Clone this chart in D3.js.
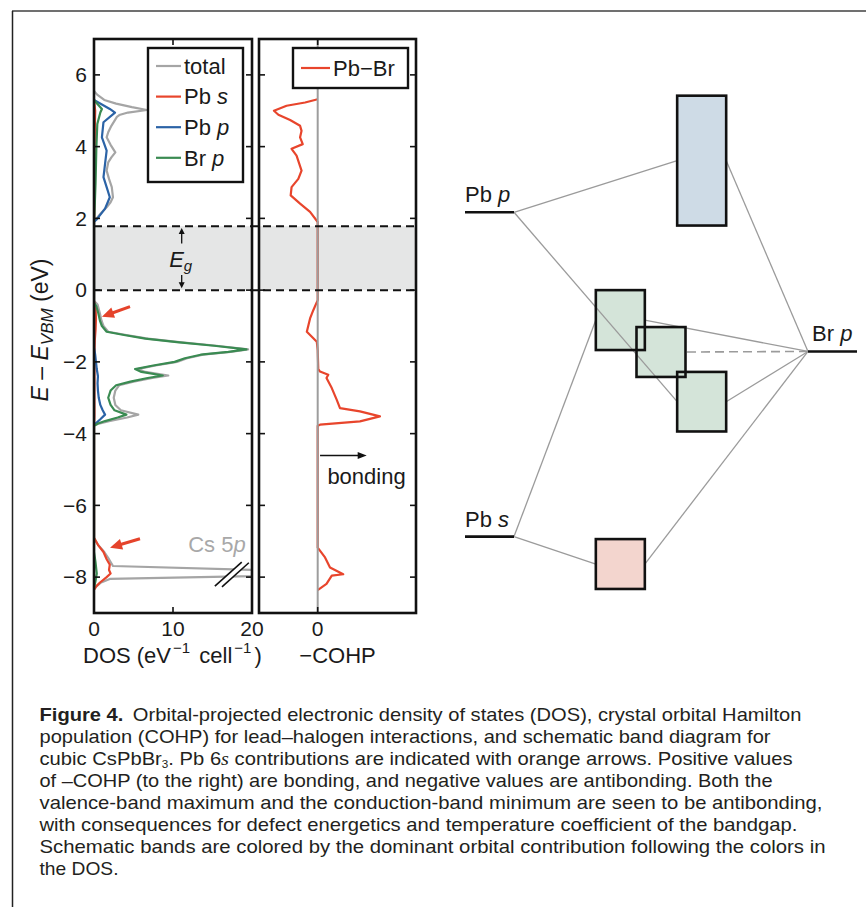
<!DOCTYPE html>
<html>
<head>
<meta charset="utf-8">
<script src="https://cdn.jsdelivr.net/npm/d3@7"></script>
<style>
  body { margin: 0; background: #fff; }
  text { font-family: "Liberation Sans", Arial, Helvetica, sans-serif; fill: #1a1a1a; }
</style>
</head>
<body>
<div class="chartDiv"></div>
<script>
// DOS / COHP of cubic CsPbBr3 + schematic band diagram

// ---- data (energy in eV, value) ----
const energyTicks = [-8, -6, -4, -2, 0, 2, 4, 6];
const dosTicks = [0, 10, 20];
const cohpTicks = [0];
const gapEdges = [0, 1.78];

const dosNames = ["total", "Pb s", "Pb p", "Br p"];
const dosColors = ["#a5a5a5", "#e8452c", "#2b63a6", "#3a8b52"];

const dosTotal = [
  [5.55, 0], [5.45, 0.4], [5.3, 1.3], [5.2, 2.8], [5.1, 4.8], [5.02, 6.7], [4.95, 4.3], [4.88, 3.2],
  [4.83, 2.9], [4.58, 2.2], [4.4, 1.8], [4.26, 1.6], [4.05, 2.1], [3.84, 2.7], [3.7, 2.2], [3.56, 1.8],
  [3.33, 1.6], [3.1, 1.9], [2.87, 2.25], [2.59, 2.4], [2.45, 2.1], [2.31, 1.6], [2.15, 0.9], [1.99, 0.3], [1.9, 0],
  [-0.3, 0], [-0.4, 0.45], [-0.65, 0.75], [-0.85, 0.95], [-1.0, 1.2], [-1.16, 1.8], [-1.25, 4.1],
  [-1.35, 6.8], [-1.45, 10.8], [-1.55, 15.5], [-1.65, 19.5], [-1.72, 17.3], [-1.8, 13.8], [-1.9, 11.8],
  [-2.0, 10.5], [-2.1, 7.8], [-2.2, 5.5], [-2.28, 6.5], [-2.38, 9.4], [-2.45, 7.4], [-2.55, 5.0],
  [-2.65, 3.2], [-2.8, 2.7], [-3.0, 2.5], [-3.2, 2.7], [-3.35, 3.4], [-3.47, 5.6], [-3.55, 4.2],
  [-3.65, 1.9], [-3.72, 0.6], [-3.78, 0],
  [-6.9, 0], [-7.1, 0.5], [-7.3, 1.3], [-7.5, 1.9], [-7.69, 2.4], [-7.9, 36], [-8.05, 2.0],
  [-8.15, 0.9], [-8.25, 0.35], [-8.35, 0]
];
const dosPbS = [
  [5.3, 0], [5.0, 0.15], [4.5, 0.1], [3.0, 0.06], [2.0, 0.03], [1.9, 0],
  [-0.3, 0], [-0.5, 0.2], [-0.8, 0.25], [-1.1, 0.2], [-1.4, 0.1], [-1.8, 0.05], [-3.5, 0.05], [-3.8, 0],
  [-6.9, 0], [-7.1, 0.5], [-7.3, 1.2], [-7.5, 1.6], [-7.65, 2.0], [-7.8, 1.9], [-7.9, 2.1],
  [-8.0, 1.6], [-8.15, 0.76], [-8.25, 0.3], [-8.35, 0]
];
const dosPbP = [
  [5.3, 0], [5.05, 2.0], [4.95, 2.66], [4.68, 1.2], [4.26, 1.0], [3.89, 1.6], [3.52, 1.4],
  [3.15, 1.2], [2.8, 1.7], [2.59, 2.0], [2.27, 1.4], [1.96, 0.3], [1.9, 0],
  [-1.6, 0], [-1.8, 0.15], [-2.0, 0.25], [-2.2, 0.35], [-2.4, 0.5], [-2.6, 0.45], [-2.8, 0.5],
  [-3.0, 0.6], [-3.2, 0.8], [-3.35, 1.1], [-3.47, 1.4], [-3.6, 0.8], [-3.72, 0.2], [-3.78, 0]
];
const dosBrP = [
  [5.3, 0], [5.05, 1.0], [4.95, 0.8], [4.63, 0.42], [4.0, 0.3], [3.0, 0.2], [2.1, 0.05], [1.95, 0],
  [-0.35, 0], [-0.45, 0.3], [-0.65, 0.55], [-0.85, 0.75], [-1.0, 1.0], [-1.16, 1.6], [-1.25, 3.8],
  [-1.35, 6.5], [-1.45, 10.5], [-1.55, 15.2], [-1.65, 19.3], [-1.72, 17.0], [-1.8, 13.5], [-1.9, 11.5],
  [-2.0, 10.2], [-2.1, 7.5], [-2.2, 5.2], [-2.28, 6.0], [-2.38, 8.7], [-2.45, 6.8], [-2.55, 4.6],
  [-2.65, 2.8], [-2.8, 2.1], [-3.0, 1.8], [-3.2, 2.1], [-3.35, 2.6], [-3.47, 4.1], [-3.55, 3.0],
  [-3.65, 1.4], [-3.72, 0.5], [-3.78, 0],
  [-7.3, 0], [-7.6, 0.2], [-7.9, 0.35], [-8.1, 0.2], [-8.3, 0]
];
const dosSeries = [dosTotal, dosPbS, dosPbP, dosBrP];

const cohpPbBr = [
  [5.32, 0], [5.23, -0.43], [5.14, -1.06], [5.0, -1.49], [4.89, -1.34], [4.74, -0.94], [4.58, -0.6],
  [4.44, -0.55], [4.26, -0.6], [4.07, -0.51], [3.94, -0.89], [3.75, -0.72], [3.33, -0.55], [3.1, -0.66],
  [2.87, -0.89], [2.64, -0.92], [2.41, -0.6], [2.18, -0.26], [1.9, 0],
  [0, 0], [-0.28, 0], [-0.56, -0.15], [-0.79, -0.26], [-1.16, -0.37], [-1.3, -0.2], [-1.44, -0.03],
  [-1.67, 0], [-2.2, 0.02], [-2.27, 0.08], [-2.36, 0.36], [-2.45, 0.3], [-2.73, 0.48], [-3.06, 0.65],
  [-3.29, 0.76], [-3.38, 1.44], [-3.52, 2.12], [-3.66, 1.44], [-3.75, 0.08], [-3.78, 0],
  [-7.18, 0], [-7.45, 0.25], [-7.73, 0.42], [-7.92, 0.87], [-7.96, 0.48], [-8.19, 0.3], [-8.36, 0]
];

// Pb 6s arrows: [value, E] tail -> head
const pbsArrows = [
  [[4.56, -0.46], [1.0, -0.74]],
  [[5.82, -6.93], [2.03, -7.18]]
];

// schematic: atomic levels and bands (energies on same axis)
const atomLevels = [
  { name: "Pb", orb: "p", E: 2.17, col: 0 },
  { name: "Pb", orb: "s", E: -6.87, col: 0 },
  { name: "Br", orb: "p", E: -1.71, col: 7 }
];
const bandNames = ["CB", "VB1", "VB2", "VB3", "PbS"];
const bandTops = [5.42, 0, -1.03, -2.28, -6.94];
const bandBottoms = [1.8, -1.67, -2.42, -3.94, -8.33];
const bandCols = [4.33, 2.67, 3.5, 4.33, 2.67];
const bandFills = ["#cedbe6", "#d4e4d9", "#d4e4d9", "#d4e4d9", "#f3d5ce"];
// links: [atom index, band index, dashed]
const schemLinks = [
  [0, 0, false], [0, 3, false], [1, 1, false], [1, 4, false],
  [2, 0, false], [2, 1, false], [2, 2, true], [2, 3, false], [2, 4, false]
];

const captionLines = [
  [["Figure 4.", "b"], ["Orbital-projected electronic density of states (DOS), crystal orbital Hamilton", "gap"]],
  [["population (COHP) for lead–halogen interactions, and schematic band diagram for", ""]],
  [["cubic CsPbBr", ""], ["3", "sub"], [". Pb 6", "up"], ["s", "is"], [" contributions are indicated with orange arrows. Positive values", ""]],
  [["of –COHP (to the right) are bonding, and negative values are antibonding. Both the", ""]],
  [["valence-band maximum and the conduction-band minimum are seen to be antibonding,", ""]],
  [["with consequences for defect energetics and temperature coefficient of the bandgap.", ""]],
  [["Schematic bands are colored by the dominant orbital contribution following the colors in", ""]],
  [["the DOS.", ""]]
];
const captionWidths = [762, 731, 753, 733, 783, 758, 786, 79];

// ---- drawing ----
let svg = d3.select('.chartDiv')
  .append('svg')
  .attr('width', 866)
  .attr('height', 907);

// figure frame
svg.append('line').attr('x1', 12).attr('x2', 866).attr('y1', 11).attr('y2', 11)
  .attr('stroke', '#707070').attr('stroke-width', 2);
svg.append('line').attr('x1', 12.5).attr('x2', 12.5).attr('y1', 11).attr('y2', 907)
  .attr('stroke', '#222').attr('stroke-width', 1.5);

let yScale = d3.scaleLinear().domain([-9, 7]).range([613, 39]);
let xDos = d3.scaleLinear().domain([0, 20]).range([94, 252]);
let xCohp = d3.scaleLinear().domain([-2, 3.35]).range([259, 416]);

let defs = svg.append('defs');
[['clipDos', xDos], ['clipCohp', xCohp]].forEach(([id, sc]) => {
  defs.append('clipPath').attr('id', id).append('rect')
    .attr('x', sc.range()[0]).attr('y', yScale.range()[1])
    .attr('width', sc.range()[1] - sc.range()[0])
    .attr('height', yScale.range()[0] - yScale.range()[1]);
});

// band gap shading
[xDos, xCohp].forEach(sc => {
  svg.append('rect')
    .attr('x', sc.range()[0]).attr('width', sc.range()[1] - sc.range()[0])
    .attr('y', yScale(gapEdges[1])).attr('height', yScale(gapEdges[0]) - yScale(gapEdges[1]))
    .attr('fill', '#e5e6e6');
});

// arrow helper
let drawArrow = (g, x1, y1, x2, y2, color, w, hl, hw) => {
  let dx = x2 - x1, dy = y2 - y1, len = Math.hypot(dx, dy);
  let ux = dx / len, uy = dy / len;
  let bx = x2 - ux * hl, by = y2 - uy * hl;
  g.append('line').attr('x1', x1).attr('y1', y1).attr('x2', bx + ux * 1).attr('y2', by + uy * 1)
    .attr('stroke', color).attr('stroke-width', w);
  g.append('path')
    .attr('d', `M${x2},${y2}L${bx - uy * hw / 2},${by + ux * hw / 2}L${bx + uy * hw / 2},${by - ux * hw / 2}Z`)
    .attr('fill', color);
};

// DOS curves
let dosLine = d3.line().x(d => xDos(d[1])).y(d => yScale(d[0]));
let dosG = svg.append('g').attr('clip-path', 'url(#clipDos)');
dosSeries.forEach((s, i) => {
  dosG.append('path').attr('d', dosLine(s))
    .attr('fill', 'none').attr('stroke', dosColors[i]).attr('stroke-width', 2.2)
    .attr('stroke-linejoin', 'round');
});

// break marks on Cs 5p spike
let brk = [[15.3, -8.25, 18.7, -7.58], [16.2, -8.27, 19.6, -7.6]];
dosG.append('line')
  .attr('x1', xDos(15.75)).attr('y1', yScale(-8.26)).attr('x2', xDos(19.15)).attr('y2', yScale(-7.59))
  .attr('stroke', '#fff').attr('stroke-width', 5);
brk.forEach(b => {
  dosG.append('line')
    .attr('x1', xDos(b[0])).attr('y1', yScale(b[1])).attr('x2', xDos(b[2])).attr('y2', yScale(b[3]))
    .attr('stroke', '#111').attr('stroke-width', 1.6);
});

svg.append('text').attr('x', xDos(19.2)).attr('y', yScale(-7.3))
  .attr('text-anchor', 'end').style('font-size', '22px').style('fill', '#a8a8a8')
  .text('Cs 5').append('tspan').style('font-style', 'italic').style('fill', '#a8a8a8').text('p');

pbsArrows.forEach(a => {
  drawArrow(svg, xDos(a[0][0]), yScale(a[0][1]), xDos(a[1][0]), yScale(a[1][1]), '#e5432b', 3, 12, 11);
});

// COHP curve
let cohpLine = d3.line().x(d => xCohp(d[1])).y(d => yScale(d[0]));
let cohpG = svg.append('g').attr('clip-path', 'url(#clipCohp)');
cohpG.append('path').attr('d', cohpLine(cohpPbBr))
  .attr('fill', 'none').attr('stroke', '#e8452c').attr('stroke-width', 2.2)
  .attr('stroke-linejoin', 'round');
cohpG.append('line').attr('x1', xCohp(0)).attr('x2', xCohp(0))
  .attr('y1', yScale.range()[1]).attr('y2', yScale.range()[0])
  .attr('stroke', '#9d9d9d').attr('stroke-width', 2);

drawArrow(svg, xCohp(0.08), yScale(-4.61), xCohp(1.67), yScale(-4.61), '#111', 1.5, 9, 7);
svg.append('text').attr('x', xCohp(0.33)).attr('y', yScale(-5.4))
  .style('font-size', '22px').text('bonding');

// gap edges
gapEdges.forEach(e => {
  svg.append('line').attr('x1', xDos.range()[0]).attr('x2', xCohp.range()[1])
    .attr('y1', yScale(e)).attr('y2', yScale(e))
    .attr('stroke', '#111').attr('stroke-width', 2).attr('stroke-dasharray', '8,5');
});
drawArrow(svg, xDos(11.1), yScale(1.3), xDos(11.1), yScale(1.73), '#111', 1.3, 6, 6);
drawArrow(svg, xDos(11.1), yScale(0.42), xDos(11.1), yScale(0.05), '#111', 1.3, 6, 6);
let eg = svg.append('text').attr('x', xDos(11.1) - 1).attr('y', 267)
  .attr('text-anchor', 'middle').style('font-size', '22px');
eg.append('tspan').style('font-style', 'italic').text('E');
eg.append('tspan').style('font-style', 'italic').style('font-size', '15px').attr('dy', 4).text('g');

// axes: ticks inward on all sides
let drawFrame = (sc, xTicks) => {
  let x0 = sc.range()[0], x1 = sc.range()[1];
  let y0 = yScale.range()[1], y1 = yScale.range()[0];
  let g = svg.append('g');
  energyTicks.forEach(t => {
    g.append('line').attr('x1', x0).attr('x2', x0 + 6).attr('y1', yScale(t)).attr('y2', yScale(t))
      .attr('stroke', '#111').attr('stroke-width', 1.6);
    g.append('line').attr('x1', x1).attr('x2', x1 - 6).attr('y1', yScale(t)).attr('y2', yScale(t))
      .attr('stroke', '#111').attr('stroke-width', 1.6);
  });
  xTicks.forEach(t => {
    g.append('line').attr('x1', sc(t)).attr('x2', sc(t)).attr('y1', y0).attr('y2', y0 + 6)
      .attr('stroke', '#111').attr('stroke-width', 1.6);
    g.append('line').attr('x1', sc(t)).attr('x2', sc(t)).attr('y1', y1).attr('y2', y1 - 6)
      .attr('stroke', '#111').attr('stroke-width', 1.6);
    g.append('text').attr('x', sc(t)).attr('y', y1 + 23).attr('text-anchor', 'middle')
      .style('font-size', '21px').text(d3.format('d')(t));
  });
  g.append('rect').attr('x', x0).attr('y', y0).attr('width', x1 - x0).attr('height', y1 - y0)
    .attr('fill', 'none').attr('stroke', '#111').attr('stroke-width', 2.6);
};
drawFrame(xDos, dosTicks);
drawFrame(xCohp, cohpTicks);

energyTicks.forEach(t => {
  svg.append('text').attr('x', 87).attr('y', yScale(t)).attr('dy', '0.35em')
    .attr('text-anchor', 'end').style('font-size', '21px').text(d3.format('d')(t));
});

// axis titles
let yl = svg.append('text').attr('transform', 'translate(48,330) rotate(-90)')
  .attr('text-anchor', 'middle').style('font-size', '23px');
yl.append('tspan').style('font-style', 'italic').text('E');
yl.append('tspan').text(' – ');
yl.append('tspan').style('font-style', 'italic').text('E');
yl.append('tspan').style('font-style', 'italic').style('font-size', '17px').attr('dy', 5).text('VBM');
yl.append('tspan').attr('dy', -5).text(' (eV)');

let xl = svg.append('text').attr('x', 83).attr('y', 663).style('font-size', '22px');
xl.append('tspan').text('DOS (eV');
xl.append('tspan').style('font-size', '15px').attr('dx', 2).attr('dy', -10).text('−1');
xl.append('tspan').attr('dx', 3).attr('dy', 10).text(' cell');
xl.append('tspan').style('font-size', '15px').attr('dx', 2).attr('dy', -10).text('−1');
xl.append('tspan').attr('dx', 3).attr('dy', 10).text(')');

svg.append('text').attr('x', (xCohp.range()[0] + xCohp.range()[1]) / 2).attr('y', 663)
  .attr('text-anchor', 'middle').style('font-size', '22px').text('−COHP');

// legends
let leg = svg.append('g');
leg.append('rect').attr('x', 148).attr('y', 48).attr('width', 95).attr('height', 134)
  .attr('fill', '#fff').attr('stroke', '#111').attr('stroke-width', 2.4);
dosNames.forEach((n, i) => {
  let yy = 66 + i * 30.6;
  leg.append('line').attr('x1', 156).attr('x2', 181).attr('y1', yy).attr('y2', yy)
    .attr('stroke', dosColors[i]).attr('stroke-width', 2.2);
  let parts = n.split(' ');
  let t = leg.append('text').attr('x', 184).attr('y', yy).attr('dy', '0.35em').style('font-size', '22px');
  t.append('tspan').text(parts[0]);
  if (parts[1]) t.append('tspan').style('font-style', 'italic').text(' ' + parts[1]);
});
let leg2 = svg.append('g');
leg2.append('rect').attr('x', 293).attr('y', 48).attr('width', 115).attr('height', 40)
  .attr('fill', '#fff').attr('stroke', '#111').attr('stroke-width', 2.4);
leg2.append('line').attr('x1', 301).attr('x2', 330).attr('y1', 68).attr('y2', 68)
  .attr('stroke', '#e8452c').attr('stroke-width', 2.2);
leg2.append('text').attr('x', 333).attr('y', 68).attr('dy', '0.35em').style('font-size', '22px').text('Pb−Br');

// schematic band diagram
let sx = d3.scaleLinear().domain([0, 8]).range([465, 857]);
let bandW = 1.0;
let sch = svg.append('g');
bandNames.forEach((b, i) => {
  sch.append('rect').attr('x', sx(bandCols[i])).attr('width', sx(bandW) - sx(0))
    .attr('y', yScale(bandTops[i])).attr('height', yScale(bandBottoms[i]) - yScale(bandTops[i]))
    .attr('fill', bandFills[i]);
});
schemLinks.forEach(([a, b, dashed]) => {
  let at = atomLevels[a];
  let mid = (bandTops[b] + bandBottoms[b]) / 2;
  let left = at.col === 0;
  let ax = left ? sx(at.col + 1) : sx(at.col);
  let bx = left ? sx(bandCols[b]) : sx(bandCols[b] + bandW);
  sch.append('line').attr('x1', ax).attr('y1', yScale(at.E)).attr('x2', bx).attr('y2', yScale(mid))
    .attr('stroke', '#9b9b9b').attr('stroke-width', dashed ? 1.6 : 1.3)
    .attr('stroke-dasharray', dashed ? '9,5' : null);
});
bandNames.forEach((b, i) => {
  sch.append('rect').attr('x', sx(bandCols[i])).attr('width', sx(bandW) - sx(0))
    .attr('y', yScale(bandTops[i])).attr('height', yScale(bandBottoms[i]) - yScale(bandTops[i]))
    .attr('fill', 'none').attr('stroke', '#111').attr('stroke-width', 2.6);
});
atomLevels.forEach(at => {
  sch.append('line').attr('x1', sx(at.col)).attr('x2', sx(at.col + 1))
    .attr('y1', yScale(at.E)).attr('y2', yScale(at.E))
    .attr('stroke', '#111').attr('stroke-width', 2.6);
  let t = sch.append('text').attr('x', sx(at.col) + (at.col === 0 ? 0 : 4)).attr('y', yScale(at.E) - 10)
    .style('font-size', '22px');
  t.append('tspan').text(at.name + ' ');
  t.append('tspan').style('font-style', 'italic').text(at.orb);
});

// caption
captionLines.forEach((runs, i) => {
  let t = svg.append('text').attr('x', 39.5).attr('y', 721 + i * 22)
    .style('font-size', '19px').style('fill', '#231f20')
    .attr('textLength', captionWidths[i]).attr('lengthAdjust', 'spacingAndGlyphs');
  runs.forEach(([txt, st]) => {
    let sp = t.append('tspan').text(txt).style('fill', '#231f20');
    if (st === 'b') sp.style('font-weight', 'bold');
    if (st === 'gap') sp.attr('dx', 9);
    if (st === 'sub') sp.style('font-size', '11px').attr('dy', 3);
    if (st === 'up') sp.attr('dy', -3);
    if (st === 'is') sp.style('font-style', 'italic').style('font-family', '"Liberation Serif", serif');
  });
});
</script>
</body>
</html>
